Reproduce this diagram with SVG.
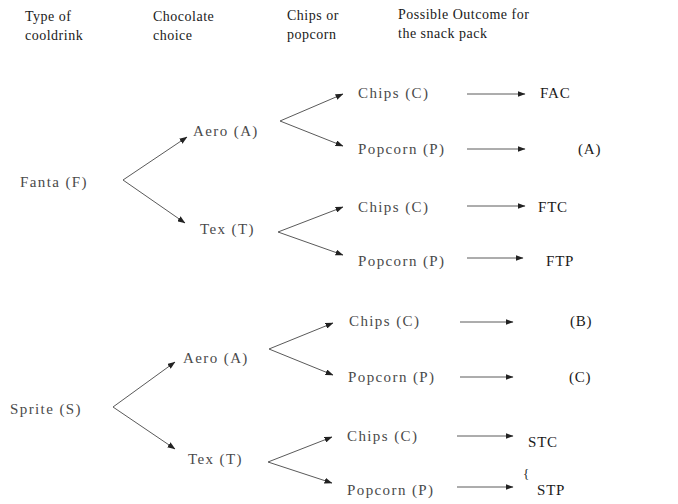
<svg xmlns="http://www.w3.org/2000/svg" width="678" height="504" viewBox="0 0 678 504">
<style>
text{font-family:"Liberation Serif","Times New Roman",serif;fill:#3a3a3a}
.h{font-size:14px;fill:#1a1a1a;letter-spacing:0.5px}
.l{font-size:15px;letter-spacing:1.4px;fill:#4a4a4a}
.o{font-size:15px;fill:#1a1a1a;letter-spacing:0.8px}
.c line{stroke:#5a5a5a;stroke-width:1;marker-end:url(#ah)}
</style>
<defs>
<marker id="ah" markerWidth="8" markerHeight="6" refX="7.5" refY="3" orient="auto" markerUnits="userSpaceOnUse">
<path d="M0,0 L8,3 L0,6 Z" fill="#222"/>
</marker>
</defs>
<rect width="678" height="504" fill="#fff"/>
<g id="headers">
<text class="h" x="25" y="21">Type of</text>
<text class="h" x="25" y="40">cooldrink</text>
<text class="h" x="153" y="21">Chocolate</text>
<text class="h" x="153" y="40">choice</text>
<text class="h" x="287" y="20">Chips or</text>
<text class="h" x="287" y="39">popcorn</text>
<text class="h" x="398" y="19">Possible Outcome for</text>
<text class="h" x="398" y="38">the snack pack</text>
</g>
<g id="n-fanta"><text class="l" x="20" y="187">Fanta (F)</text></g>
<g id="n-fa"><text class="l" x="193" y="136">Aero (A)</text></g>
<g id="n-ft"><text class="l" x="200" y="234">Tex (T)</text></g>
<g id="n-fac"><text class="l" x="358" y="98">Chips (C)</text></g>
<g id="n-fap"><text class="l" x="358" y="154">Popcorn (P)</text></g>
<g id="n-ftc"><text class="l" x="358" y="212">Chips (C)</text></g>
<g id="n-ftp"><text class="l" x="358" y="266">Popcorn (P)</text></g>
<g id="o1"><text class="o" x="540" y="98">FAC</text></g>
<g id="o2"><text class="o" x="578" y="154">(A)</text></g>
<g id="o3"><text class="o" x="538" y="212">FTC</text></g>
<g id="o4"><text class="o" x="546" y="266">FTP</text></g>
<g id="n-sprite"><text class="l" x="10" y="414">Sprite (S)</text></g>
<g id="n-sa"><text class="l" x="183" y="363">Aero (A)</text></g>
<g id="n-st"><text class="l" x="188" y="464">Tex (T)</text></g>
<g id="n-sac"><text class="l" x="349" y="326">Chips (C)</text></g>
<g id="n-sap"><text class="l" x="348" y="382">Popcorn (P)</text></g>
<g id="n-stc"><text class="l" x="347" y="441">Chips (C)</text></g>
<g id="n-stp"><text class="l" x="347" y="495">Popcorn (P)</text></g>
<g id="o5"><text class="o" x="570" y="326">(B)</text></g>
<g id="o6"><text class="o" x="569" y="382">(C)</text></g>
<g id="o7"><text class="o" x="528" y="447">STC</text></g>
<g id="o8"><text class="o" x="523" y="478" style="font-size:13px">{</text><text class="o" x="537" y="495">STP</text></g>
<g id="connectors" class="c">
<line x1="123" y1="180" x2="187" y2="137"/>
<line x1="123" y1="180" x2="185" y2="223"/>
<line x1="280" y1="121" x2="343" y2="94"/>
<line x1="280" y1="121" x2="343" y2="146"/>
<line x1="278" y1="232" x2="343" y2="207"/>
<line x1="278" y1="232" x2="343" y2="255"/>
<line x1="467" y1="94" x2="525" y2="94"/>
<line x1="467" y1="149" x2="525" y2="149"/>
<line x1="467" y1="206" x2="525" y2="206"/>
<line x1="467" y1="258" x2="523" y2="258"/>
<line x1="113" y1="407" x2="175" y2="362"/>
<line x1="113" y1="407" x2="175" y2="449"/>
<line x1="269" y1="349" x2="333" y2="323"/>
<line x1="269" y1="349" x2="333" y2="375"/>
<line x1="268" y1="462" x2="332" y2="437"/>
<line x1="268" y1="462" x2="332" y2="483"/>
<line x1="460" y1="322" x2="513" y2="322"/>
<line x1="460" y1="377" x2="513" y2="377"/>
<line x1="457" y1="436" x2="513" y2="436"/>
<line x1="457" y1="487" x2="513" y2="487"/>
</g>
</svg>
